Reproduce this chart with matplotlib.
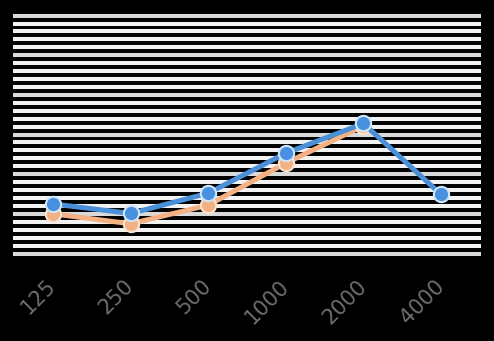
import numpy as np
import matplotlib
matplotlib.use("Agg")
import matplotlib.pyplot as plt
import matplotlib.transforms as mtransforms
from matplotlib.ticker import MultipleLocator

categories = ["125", "250", "500", "1000", "2000", "4000"]
series_blue = [12.5, 10.1, 15.2, 25.3, 32.8, 14.9]
series_orange = [10.0, 7.5, 12.2, 22.8, 32.2, np.nan]

fig = plt.figure(figsize=(4.94, 3.41), dpi=100, facecolor="black")
ax = fig.add_axes([13/494, 1-258/341, 468/494, 246/341])
ax.set_facecolor("black")

x = np.arange(len(categories))
ax.plot(x, series_orange, color="#f4b183", lw=3.6, marker="o", ms=11,
        mfc="#f4b183", mec="#fbe3d2", mew=1.5, zorder=3, solid_capstyle="round")
ax.plot(x, series_blue, color="#4a8fd8", lw=3.6, marker="o", ms=11,
        mfc="#4a90e0", mec="#cfe5f8", mew=1.5, zorder=4, solid_capstyle="round")

ax.set_xlim(-0.515, 5.515)
ax.set_ylim(-1.13, 60.9)
ax.yaxis.set_major_locator(MultipleLocator(10))
ax.yaxis.set_minor_locator(MultipleLocator(2))
ax.grid(axis="y", which="minor", color="#f2f2f2", lw=2.9, zorder=0)
ax.grid(axis="y", which="major", color="#d9d9d9", lw=2.9, zorder=1)
ax.set_axisbelow(True)

ax.set_xticks(x)
ax.set_xticklabels(categories, rotation=45, ha="right", rotation_mode="anchor",
                   color="#6e6e6e", fontsize=15)
ax.tick_params(axis="x", length=0, pad=13)
ax.tick_params(axis="y", which="both", length=0, labelleft=False)
offset = mtransforms.ScaledTranslation(-7/100, 0, fig.dpi_scale_trans)
for lbl in ax.get_xticklabels():
    lbl.set_transform(lbl.get_transform() + offset)
for s in ax.spines.values():
    s.set_visible(False)

fig.savefig("out.png", dpi=100, facecolor="black")
